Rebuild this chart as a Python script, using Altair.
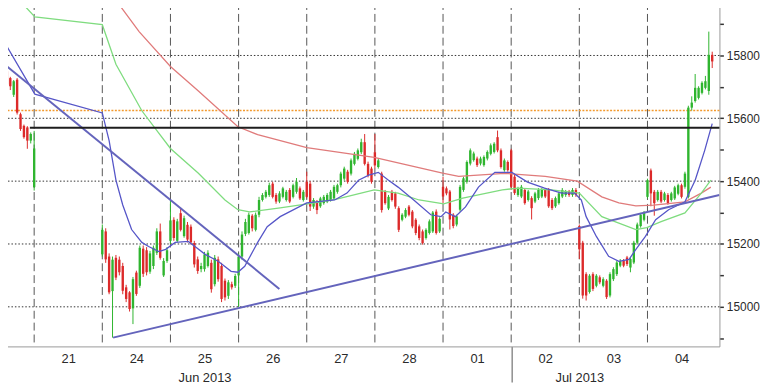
import altair as alt
import pandas as pd

FONT = "Liberation Sans"
GREEN = "#2fb52f"
RED = "#dc2a2a"

day_labels = ["20", "21", "24", "25", "26", "27", "28", "01", "02", "03", "04"]
bars_per_day = 20

# candles: (open, high, low, close) per 20-minute bar
jun20 = [(15750, 15756, 15736, 15742), (15755, 15760, 15722, 15728), (15750, 15755, 15704, 15708),
         (15728, 15732, 15690, 15702), (15675, 15722, 15668, 15718), (15723, 15728, 15612, 15618),
         (15613, 15618, 15560, 15566), (15576, 15580, 15535, 15540), (15571, 15575, 15503, 15529),
         (15529, 15555, 15520, 15550)]
jun21 = [(15381, 15560, 15370, 15504)]
jun24 = [(15167, 15262, 15160, 15245), (15240, 15250, 15140, 15151), (15160, 15170, 15040, 15046),
         (15050, 15160, 14902, 15150), (15156, 15165, 15085, 15093), (15150, 15160, 15100, 15110),
         (15130, 15140, 15040, 15051), (15062, 15070, 15015, 15025), (15046, 15050, 14985, 14993),
         (14995, 15095, 14945, 15088), (15109, 15115, 15035, 15041), (15067, 15195, 15060, 15188),
         (15185, 15195, 15095, 15105), (15180, 15190, 15100, 15110), (15112, 15178, 15105, 15170),
         (15130, 15195, 15120, 15188), (15172, 15250, 15165, 15240), (15240, 15265, 15150, 15156),
         (15100, 15155, 15095, 15146), (15146, 15190, 15140, 15180)]
jun25 = [(15210, 15340, 15200, 15275), (15277, 15285, 15210, 15219), (15210, 15280, 15205, 15272),
         (15298, 15315, 15240, 15245), (15225, 15290, 15220, 15282), (15261, 15270, 15205, 15214),
         (15255, 15262, 15198, 15205), (15203, 15210, 15125, 15135), (15151, 15160, 15105, 15114),
         (15120, 15140, 15110, 15130), (15120, 15175, 15112, 15167), (15130, 15180, 15125, 15172),
         (15140, 15150, 15045, 15056), (15072, 15165, 15065, 15156), (15151, 15160, 15080, 15088),
         (15130, 15140, 15015, 15025), (15083, 15090, 15020, 15030), (15035, 15085, 15025, 15078),
         (15072, 15080, 15055, 15062), (15067, 15105, 15060, 15098)]
jun26 = [(15100, 15170, 15000, 15160), (15160, 15240, 15150, 15230), (15232, 15280, 15225, 15270),
         (15235, 15300, 15230, 15293), (15290, 15295, 15240, 15250), (15245, 15300, 15240, 15293),
         (15293, 15350, 15285, 15340), (15340, 15362, 15335, 15356), (15350, 15372, 15345, 15366),
         (15356, 15395, 15350, 15387), (15392, 15398, 15345, 15350), (15356, 15362, 15328, 15335),
         (15335, 15368, 15330, 15361), (15350, 15382, 15345, 15377), (15340, 15372, 15335, 15366),
         (15372, 15378, 15330, 15335), (15350, 15392, 15345, 15387), (15366, 15410, 15360, 15398),
         (15377, 15383, 15340, 15345), (15340, 15372, 15335, 15366)]
jun27 = [(15398, 15430, 15345, 15350), (15392, 15400, 15305, 15319), (15319, 15346, 15312, 15340),
         (15335, 15340, 15295, 15308), (15320, 15350, 15315, 15345), (15330, 15356, 15325, 15350),
         (15335, 15362, 15330, 15356), (15340, 15372, 15335, 15366), (15345, 15388, 15340, 15382),
         (15366, 15392, 15360, 15387), (15387, 15430, 15380, 15424), (15408, 15446, 15402, 15440),
         (15430, 15436, 15392, 15398), (15424, 15472, 15418, 15466), (15455, 15493, 15450, 15487),
         (15471, 15504, 15466, 15498), (15492, 15535, 15486, 15524), (15524, 15550, 15450, 15455),
         (15455, 15462, 15412, 15419), (15440, 15446, 15392, 15398)]
jun28 = [(15492, 15550, 15440, 15450), (15445, 15472, 15440, 15466), (15424, 15430, 15300, 15308),
         (15366, 15372, 15325, 15330), (15313, 15356, 15308, 15350), (15366, 15372, 15335, 15340),
         (15361, 15366, 15312, 15319), (15314, 15320, 15238, 15245), (15277, 15298, 15272, 15293),
         (15287, 15314, 15282, 15308), (15319, 15324, 15288, 15293), (15303, 15308, 15250, 15256),
         (15277, 15282, 15228, 15235), (15256, 15262, 15212, 15219), (15240, 15246, 15198, 15203),
         (15219, 15250, 15214, 15245), (15235, 15278, 15230, 15272), (15240, 15305, 15235, 15300),
         (15303, 15310, 15230, 15235), (15240, 15285, 15235, 15280)]
jul01 = [(15382, 15414, 15330, 15351), (15377, 15383, 15355, 15361), (15367, 15372, 15246, 15278),
         (15293, 15298, 15250, 15257), (15262, 15293, 15256, 15288), (15309, 15388, 15303, 15382),
         (15372, 15414, 15366, 15409), (15398, 15466, 15392, 15461), (15456, 15504, 15450, 15498),
         (15467, 15494, 15462, 15488), (15472, 15478, 15445, 15451), (15456, 15478, 15450, 15472),
         (15451, 15482, 15446, 15477), (15472, 15498, 15466, 15493), (15487, 15520, 15482, 15514),
         (15493, 15524, 15488, 15519), (15540, 15561, 15492, 15498), (15498, 15504, 15440, 15445),
         (15435, 15472, 15430, 15466), (15461, 15466, 15430, 15435)]
jul02 = [(15498, 15503, 15372, 15382), (15414, 15420, 15356, 15362), (15356, 15382, 15350, 15377),
         (15351, 15388, 15346, 15382), (15372, 15378, 15325, 15330), (15340, 15372, 15335, 15367),
         (15346, 15352, 15278, 15314), (15335, 15366, 15330, 15361), (15346, 15378, 15340, 15372),
         (15351, 15378, 15346, 15372), (15372, 15378, 15346, 15351), (15372, 15378, 15315, 15320),
         (15340, 15346, 15308, 15314), (15320, 15351, 15315, 15346), (15330, 15366, 15325, 15361),
         (15351, 15378, 15346, 15372), (15356, 15372, 15350, 15367), (15367, 15372, 15350, 15356),
         (15356, 15378, 15350, 15372), (15372, 15378, 15350, 15356)]
jul03 = [(15257, 15262, 15152, 15183), (15204, 15210, 15026, 15036), (15104, 15110, 15020, 15036),
         (15047, 15104, 15042, 15099), (15104, 15110, 15050, 15057), (15067, 15104, 15062, 15099),
         (15094, 15100, 15072, 15078), (15067, 15094, 15062, 15088), (15083, 15088, 15025, 15031),
         (15036, 15110, 15030, 15104), (15088, 15126, 15082, 15120), (15104, 15146, 15098, 15141),
         (15131, 15152, 15126, 15146), (15146, 15152, 15126, 15131), (15157, 15162, 15130, 15136),
         (15125, 15158, 15110, 15152), (15141, 15210, 15136, 15204), (15204, 15268, 15198, 15262),
         (15257, 15299, 15252, 15293), (15277, 15305, 15272, 15299)]
jul04 = [(15350, 15408, 15345, 15403), (15434, 15440, 15320, 15361), (15366, 15372, 15290, 15330),
         (15340, 15372, 15335, 15366), (15366, 15372, 15330, 15335), (15340, 15366, 15335, 15361),
         (15356, 15362, 15325, 15330), (15340, 15366, 15335, 15361), (15345, 15385, 15340, 15380),
         (15360, 15392, 15355, 15387), (15387, 15392, 15345, 15350), (15382, 15430, 15376, 15424),
         (15350, 15640, 15345, 15634), (15634, 15670, 15625, 15650), (15655, 15741, 15650, 15697),
         (15665, 15702, 15660, 15697), (15681, 15718, 15676, 15713), (15697, 15735, 15692, 15718),
         (15687, 15876, 15675, 15802), (15802, 15812, 15760, 15781)]

# (day index, first bar slot, bars)
sessions = [(0, 10, jun20), (1, 0, jun21), (2, 0, jun24), (3, 0, jun25), (4, 0, jun26),
            (5, 0, jun27), (6, 0, jun28), (7, 0, jul01), (8, 0, jul02), (9, 0, jul03), (10, 0, jul04)]

# moving averages: (day position, level)
blue_t = [0.30, 0.50, 1.01, 2.00, 2.10, 2.20, 2.30, 2.43, 2.58, 2.68, 2.83, 2.93, 3.07, 3.26, 3.36,
          3.51, 3.70, 3.89, 3.99, 4.09, 4.13, 4.28, 4.42, 4.61, 5.00, 5.41, 5.59, 5.76, 5.91, 6.05,
          6.20, 6.34, 6.57, 6.82, 6.97, 7.04, 7.18, 7.33, 7.52, 7.76, 8.01, 8.24, 8.49, 8.74, 8.93,
          9.03, 9.10, 9.25, 9.43, 9.58, 9.73, 9.83, 9.97, 10.12, 10.31, 10.55, 10.70, 10.84, 10.95]
blue_v = [15930, 15866, 15677, 15617, 15529, 15403, 15324, 15246, 15205, 15192, 15176, 15183, 15205,
          15208, 15192, 15167, 15145, 15113, 15110, 15129, 15145, 15205, 15255, 15287, 15331, 15340,
          15362, 15403, 15419, 15428, 15403, 15381, 15340, 15293, 15287, 15302, 15287, 15318, 15381,
          15428, 15428, 15397, 15378, 15362, 15362, 15340, 15287, 15224, 15161, 15145, 15151, 15183,
          15224, 15277, 15309, 15334, 15403, 15498, 15583]
green_t = [0.70, 1.01, 2.00, 2.20, 2.58, 3.00, 3.41, 3.80, 3.99, 4.16, 4.61, 5.11, 5.44, 5.99, 6.34,
           6.65, 7.01, 7.29, 7.87, 8.10, 8.59, 9.00, 9.33, 9.83, 9.99, 10.20, 10.55, 10.79, 10.93]
green_v = [15995, 15923, 15898, 15772, 15624, 15504, 15425, 15340, 15309, 15302, 15315, 15331, 15343,
           15372, 15362, 15340, 15328, 15346, 15372, 15378, 15372, 15362, 15287, 15246, 15252, 15271,
           15299, 15362, 15403]
red_t = [2.10, 2.22, 2.54, 3.00, 3.41, 3.99, 4.28, 5.00, 5.99, 7.01, 7.23, 7.90, 8.50, 8.97, 9.33,
         9.58, 9.83, 10.09, 10.55, 10.79, 10.93]
red_v = [16010, 15970, 15876, 15765, 15687, 15573, 15548, 15507, 15476, 15425, 15415, 15425, 15415,
         15400, 15350, 15331, 15321, 15324, 15334, 15362, 15381]

# drawn trend lines
down_t = [0.545, 4.598]
down_v = [15775, 15057]
up_t = [2.158, 11.056]
up_v = [14902, 15356]
resistance_level = 15570
resistance_from = 0.937
orange_level = 15625
grid_levels = [15000, 15200, 15400, 15600, 15800]
divider_days = [1, 2, 3, 4, 5, 6, 7, 8, 9, 10]
month_pos = [3.5, 9.0]

X_DOM = [0.5, 11.056]
Y_DOM = [14874, 15970]

rows = []
for d, k0, bars in sessions:
    for j, (o, h, l, c) in enumerate(bars):
        rows.append(dict(t=d + (k0 + j) / bars_per_day, open=o, high=h, low=l, close=c,
                         dir="up" if c >= o else "down"))
candles = pd.DataFrame(rows)

xs = alt.Scale(domain=X_DOM, nice=False, zero=False)
ys = alt.Scale(domain=Y_DOM, nice=False, zero=False)
col = alt.Color("dir:N", scale=alt.Scale(domain=["up", "down"], range=[GREEN, RED]), legend=None)

label_list = "[" + ",".join("'%s'" % s for s in day_labels) + "]"
main_x_axis = alt.Axis(values=[d + 0.5 for d in range(len(day_labels))],
                       labelExpr=label_list + "[round(datum.value - 0.5)]",
                       ticks=False, grid=False, domainColor="#9a9a9a", labelFont=FONT,
                       labelFontSize=13, labelColor="#2a2a2a", labelPadding=6, title=None,
                       orient="bottom", labelFlush=False, labelOverlap=False, labelBound=False)
y_axis = alt.Axis(orient="right", values=list(range(14900, 16000, 100)), format="d",
                  labelExpr="datum.value % 200 == 0 ? datum.label : ''", tickSize=4, tickWidth=1.5,
                  tickColor="#333333", grid=False, domainColor="#9a9a9a", labelFont=FONT,
                  labelFontSize=12, labelColor="#2a2a2a", labelPadding=3, title=None,
                  labelFlush=False, labelOverlap=False)
month_axis = alt.Axis(values=month_pos, labelExpr="datum.value < 6 ? 'Jun 2013' : 'Jul 2013'",
                      ticks=False, domain=False, grid=False, labelFont=FONT, labelFontSize=13,
                      labelColor="#2a2a2a", labelPadding=25, title=None, orient="bottom",
                      labelFlush=False, labelOverlap=False)
month_tick_axis = alt.Axis(values=[8], labels=False, ticks=True, tickSize=36, tickColor="#555555",
                           tickWidth=1, domain=False, grid=False, title=None, orient="bottom")

grid = alt.Chart(pd.DataFrame({"v": grid_levels})).mark_rule(
    color="#333333", strokeDash=[1.5, 2], strokeWidth=1).encode(
    y=alt.Y("v:Q", scale=ys, axis=None))

dividers = alt.Chart(pd.DataFrame({"t": divider_days})).mark_rule(
    color="#555555", strokeDash=[8, 4], strokeWidth=1).encode(
    x=alt.X("t:Q", scale=xs, axis=month_tick_axis))

orange = alt.Chart(pd.DataFrame({"v": [orange_level]})).mark_rule(
    color="#f39a2e", strokeDash=[2, 1.5], strokeWidth=1.6).encode(
    y=alt.Y("v:Q", scale=ys, axis=None))

wick = alt.Chart(candles).mark_rule(strokeWidth=1).encode(
    x=alt.X("t:Q", scale=xs, axis=main_x_axis),
    y=alt.Y("low:Q", scale=ys, axis=y_axis), y2="high:Q", color=col)
body = alt.Chart(candles).mark_rule(strokeWidth=2.4).encode(
    x=alt.X("t:Q", scale=xs, axis=None),
    y=alt.Y("open:Q", scale=ys, axis=None), y2="close:Q", color=col)


def ma_line(ts, vs, color, width=1.3):
    return alt.Chart(pd.DataFrame({"t": ts, "v": vs})).mark_line(
        color=color, strokeWidth=width, clip=True).encode(
        x=alt.X("t:Q", scale=xs, axis=None), y=alt.Y("v:Q", scale=ys, axis=None))


red_line = ma_line(red_t, red_v, "#e07b7b")
green_line = ma_line(green_t, green_v, "#7fdc7f")
blue_line = ma_line(blue_t, blue_v, "#5656c8")
down_line = ma_line(down_t, down_v, "#6464bc", 2)
up_line = ma_line(up_t, up_v, "#6464bc", 2)

black = alt.Chart(pd.DataFrame({"t": [resistance_from], "t2": [X_DOM[1]], "v": [resistance_level]})).mark_rule(
    color="#1e1e1e", strokeWidth=2).encode(
    x=alt.X("t:Q", scale=xs, axis=month_axis), x2="t2:Q", y=alt.Y("v:Q", scale=ys, axis=None))

chart = alt.layer(grid, dividers, orange, wick, body, red_line, green_line, blue_line,
                  down_line, up_line, black).resolve_axis(x="independent", y="independent").properties(
    width=727, height=348, autosize="none",
    padding={"left": -8, "top": -8, "right": 41, "bottom": 36},
    background="white").configure_view(stroke=None)

chart.save("out.html", embed_options={"renderer": "svg", "actions": False})
